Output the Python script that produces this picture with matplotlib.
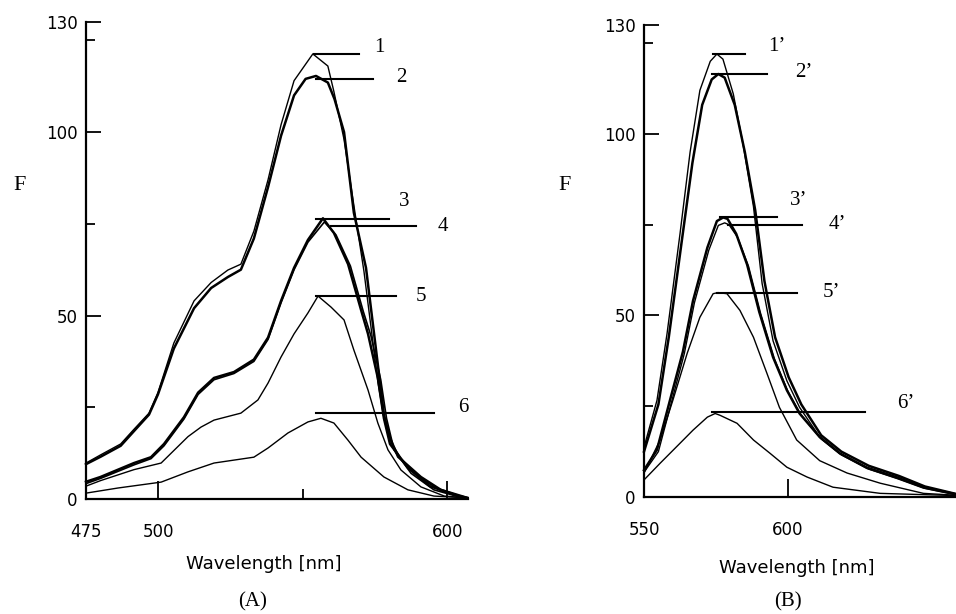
import matplotlib
matplotlib.use("Agg")
import matplotlib.pyplot as plt
from matplotlib.ticker import FixedLocator

# ---- panel A : wavelength (nm) / fluorescence F ----
a1_x = [475, 480, 487, 491.6, 496.8, 499.9, 505.4, 512.4, 518.3, 524.1, 528.6, 533.1, 538, 542.5,
        547, 553.5, 558.7, 560.8, 564.3, 567.7, 571.2, 573.6, 576, 578.1, 581, 584, 590.9, 597.8, 607]
a1_y = [9.8, 12, 15, 19, 23.4, 29, 42.5, 54, 59, 62.4, 64, 73, 87, 102,
        114, 121.3, 118, 111, 98, 80, 62, 47, 32, 22, 15, 11, 5.5, 2.3, 0.3]
a2_x = [475, 480, 487, 491.6, 496.8, 499.9, 505.4, 512.4, 518.3, 524.1, 528.6, 533.1, 538, 542.5,
        547, 551, 554.6, 558.7, 561, 564.3, 567.7, 571.9, 574.7, 578.1, 580, 583, 590.9, 597.8, 607]
a2_y = [9.5, 11.5, 14.5, 18.5, 23, 28.5, 41, 52, 57.5, 60.5, 62.5, 71, 85, 99,
        110, 114.5, 115.3, 113.5, 109, 100, 78, 63, 45, 23, 17, 11.5, 6, 2.5, 0.3]
a3_x = [475, 480, 491.6, 497.5, 502, 508.9, 513.8, 519.3, 526.2, 533.1, 538, 542.5, 547, 551.8,
        557, 560.8, 565.7, 570.2, 572.6, 576, 578.1, 580.2, 586.4, 594, 604, 607]
a3_y = [4.7, 6, 9.8, 11.4, 15, 22.3, 29, 33, 34.6, 38, 44, 54, 63, 70.6,
        76.5, 72.5, 64, 51.5, 45, 33, 22, 15, 8.5, 3.5, 0.8, 0.3]
a4_x = [475, 480, 491.6, 497.5, 502, 508.9, 513.8, 519.3, 526.2, 533.1, 538, 542.5, 547, 551.8,
        557.5, 561.5, 566.5, 571, 573.6, 577, 579, 581.6, 587.5, 595.4, 604, 607]
a4_y = [4.2, 5.6, 9.3, 11, 14.5, 21.8, 28.5, 32.5, 34.2, 37.5, 43.5, 53.5, 62.5, 70,
        75.5, 72, 63.5, 51, 44.5, 32.5, 22, 13.4, 7, 2.5, 0.6, 0.3]
a5_x = [475, 480, 491.6, 501, 510.3, 514.8, 519.3, 528.6, 534.5, 538, 542.5, 547, 551.8, 555.3,
        559.8, 564.3, 567.7, 572.6, 576, 579.5, 584, 590.9, 599, 607]
a5_y = [3.5, 5, 8, 9.8, 17, 19.6, 21.5, 23.4, 27, 31.6, 38.7, 45, 50.7, 55.3,
        52.3, 48.8, 40.6, 29.7, 20.7, 13.4, 7.9, 3.3, 0.8, 0.3]
a6_x = [475, 486.1, 501, 510.3, 519.3, 533.1, 538, 544.9, 551.8, 556.3, 560.8, 565.7, 570.2,
        578.1, 586.4, 595.4, 607]
a6_y = [1.6, 3, 4.6, 7.4, 9.8, 11.4, 13.9, 18, 21, 22, 20.7, 16, 11.4,
        6, 2.5, 0.8, 0.3]

# ---- panel B ----
b1_x = [550, 554.5, 558, 562.5, 566, 569.4, 573, 575.3, 577.4, 581, 584.4, 588, 591, 594.8,
        599.6, 604, 611, 618, 627.4, 638, 647, 658]
b1_y = [13.7, 26.6, 45, 72.5, 95, 112, 120, 122, 120.6, 111, 97, 80, 58.8, 43,
        32, 24.7, 16.5, 12, 8.2, 5.5, 2.7, 0.8]
b2_x = [550, 555, 558.6, 563.2, 566.8, 570.2, 573.5, 575.8, 578, 581.5, 585, 588.6, 591.8, 595.5,
        600.2, 604.6, 611.5, 618.5, 628, 638.5, 647.5, 658]
b2_y = [12.5, 25.5, 44, 71, 92, 108, 115, 116.5, 115.5, 108, 95, 79, 59.5, 44,
        33, 25.5, 17, 12.5, 8.6, 5.8, 2.9, 0.9]
b3_x = [550, 554.5, 559, 563.5, 567, 572, 575.3, 577.5, 579, 582, 585.8, 590, 594.8, 599.6,
        604, 611, 618, 627.4, 638, 647, 658]
b3_y = [7.4, 13, 26.6, 40, 54, 68.7, 76, 77, 76.6, 72.5, 64, 51, 38.5, 29.4,
        23, 16.5, 12, 8, 5.2, 2.6, 0.8]
b4_x = [550, 555, 559.5, 564, 567.5, 572.5, 575.8, 578, 579.5, 582.5, 586.3, 590.5, 595.3, 600,
        604.5, 611.5, 618.5, 628, 638.5, 647.5, 658]
b4_y = [6.8, 12.5, 26, 39.5, 53.5, 68, 74.8, 75.5, 75, 71.5, 63.5, 50.5, 38, 29,
        22.6, 16, 11.6, 7.7, 5, 2.4, 0.7]
b5_x = [550, 555.6, 560, 565, 569.4, 574, 575.7, 578.8, 583.3, 588, 592.7, 597, 603, 611,
        620.5, 632, 647, 658]
b5_y = [6.6, 15.7, 26.6, 39.6, 49.5, 56, 56.3, 56, 51.4, 44, 34, 24.7, 15.7, 10,
        6.6, 3.8, 1, 0.5]
b6_x = [550, 555.6, 562.5, 567, 572, 574.7, 576.4, 582.3, 588, 593.8, 599.6, 606.6, 615.6,
        632, 658]
b6_y = [4.7, 9.3, 14.8, 18.4, 22, 23, 22.5, 20.3, 15.7, 12, 8.2, 5.5, 2.7,
        1, 0.4]

# leader lines: start wavelength, end wavelength, level, label text / label position
a_lead_x0 = [553.9, 554.6, 554.6, 559.8, 554.6, 554.6]
a_lead_x1 = [569.5, 574.3, 579.8, 589.2, 582.3, 595.4]
a_lead_y = [121.3, 114.4, 76.2, 74.4, 55.3, 23.4]
a_lab_x = [574.7, 582.3, 583.3, 596.8, 589.2, 603.7]
a_lab_y = [123, 115, 81, 74.4, 55.3, 25]
a_labels = ["1", "2", "3", "4", "5", "6"]

b_lead_x0 = [574.0, 573.6, 576.4, 579.0, 575.3, 573.6]
b_lead_x1 = [585.0, 592.7, 596.0, 605.0, 603.0, 626.7]
b_lead_y = [122, 116.5, 77, 75, 56.3, 23.5]
b_lab_x = [593.0, 602.4, 600.7, 614.0, 612.0, 638.0]
b_lab_y = [124, 117, 81.6, 75, 56.3, 25.8]
b_labels = ["1\u2019", "2\u2019", "3\u2019", "4\u2019", "5\u2019", "6\u2019"]

a_curves = [(a1_x, a1_y, 1.0), (a2_x, a2_y, 1.8), (a3_x, a3_y, 1.8),
            (a4_x, a4_y, 1.2), (a5_x, a5_y, 1.0), (a6_x, a6_y, 1.0)]
b_curves = [(b1_x, b1_y, 1.0), (b2_x, b2_y, 1.8), (b3_x, b3_y, 1.8),
            (b4_x, b4_y, 1.0), (b5_x, b5_y, 1.0), (b6_x, b6_y, 1.0)]

W, H = 956, 614
fig = plt.figure(figsize=(W / 100, H / 100), dpi=100)
axA = fig.add_axes([86 / W, 1 - 499 / H, 382 / W, 477 / H])
axB = fig.add_axes([644 / W, 1 - 497 / H, 312 / W, 472 / H])

serif = "Liberation Serif"


def style_axes(ax, xlim, xmajor, xminor):
    ax.set_xlim(*xlim)
    ax.set_ylim(0, 130)
    for s in ["top", "right"]:
        ax.spines[s].set_visible(False)
    for s in ["left", "bottom"]:
        ax.spines[s].set_linewidth(1.6)
    ax.xaxis.set_major_locator(FixedLocator(xmajor))
    ax.xaxis.set_minor_locator(FixedLocator(xminor))
    ax.yaxis.set_major_locator(FixedLocator([0, 50, 100, 130]))
    ax.yaxis.set_minor_locator(FixedLocator([25, 75, 125]))
    ax.tick_params(axis="x", which="major", direction="in", length=13, width=1.3,
                   pad=17, labelsize=12)
    ax.tick_params(axis="x", which="minor", direction="in", length=7, width=1.3)
    ax.tick_params(axis="y", which="major", direction="in", length=11, width=1.3,
                   pad=6, labelsize=12)
    ax.tick_params(axis="y", which="minor", direction="in", length=6.5, width=1.3)
    ax.set_xlabel("Wavelength [nm]", fontsize=13)
    ax.patch.set_alpha(0)


def draw_panel(ax, curves, lx0, lx1, ly, tx, ty, labels):
    for x, y, lw in curves:
        ax.plot(x, y, color="black", lw=lw, clip_on=False)
    for i in range(len(labels)):
        ax.plot([lx0[i], lx1[i]], [ly[i], ly[i]], color="black", lw=1.5, clip_on=False)
        ax.text(tx[i], ty[i], labels[i], family=serif, fontsize=15,
                ha="left", va="center")


style_axes(axA, (475, 607.2), [475, 500, 600], [550])
draw_panel(axA, a_curves, a_lead_x0, a_lead_x1, a_lead_y, a_lab_x, a_lab_y, a_labels)
axA.xaxis.set_label_coords(0.466, -0.118)
axA.text(-0.173, 0.658, "F", transform=axA.transAxes, family=serif, fontsize=16,
         ha="center", va="center")

style_axes(axB, (550, 658.3), [550, 600], [])
draw_panel(axB, b_curves, b_lead_x0, b_lead_x1, b_lead_y, b_lab_x, b_lab_y, b_labels)
axB.xaxis.set_label_coords(0.49, -0.132)
axB.text(-0.256, 0.661, "F", transform=axB.transAxes, family=serif, fontsize=16,
         ha="center", va="center")

fig.text(253 / W, 1 - 602 / H, "(A)", family=serif, fontsize=15, ha="center", va="center")
fig.text(788 / W, 1 - 602 / H, "(B)", family=serif, fontsize=15, ha="center", va="center")

fig.savefig("out.png", dpi=100)
